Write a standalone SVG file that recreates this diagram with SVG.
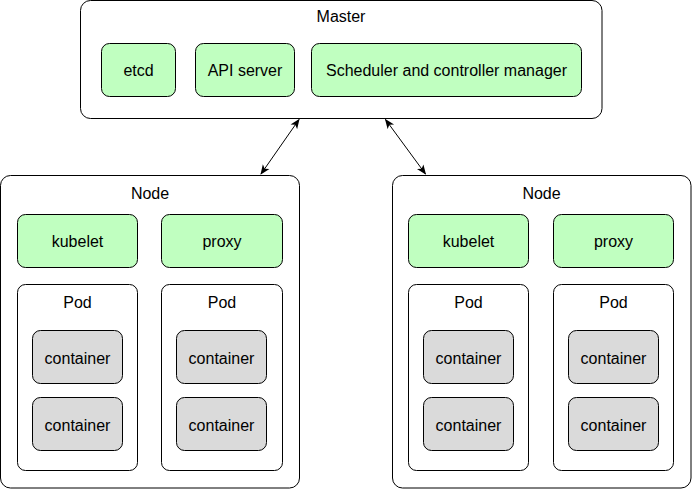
<svg xmlns="http://www.w3.org/2000/svg" width="692" height="489" viewBox="0 0 692 489">
<defs>
<style>
.box{fill:#ffffff;stroke:#000000;stroke-width:1}
.green{fill:#c0ffc0;stroke:#000000;stroke-width:1}
.gray{fill:#dadada;stroke:#000000;stroke-width:1}
text{font-family:"Liberation Sans",Arial,Helvetica,sans-serif;font-size:16px;fill:#000000;text-anchor:middle}
.conn{stroke:#000000;stroke-width:1;fill:none;marker-start:url(#ah);marker-end:url(#ah)}
</style>
<marker id="ah" viewBox="0 0 10 10" refX="9" refY="5" markerWidth="10" markerHeight="10" markerUnits="userSpaceOnUse" orient="auto-start-reverse">
<path d="M0,1 L10,5 L0,9 L2.5,5 Z" fill="#000000"/>
</marker>
</defs>
<rect width="692" height="489" fill="#ffffff"/>

<g id="master">
<rect class="box" x="80.5" y="0.5" width="521.5" height="118" rx="10"/>
<text x="341" y="21.5">Master</text>
</g>
<g id="etcd">
<rect class="green" x="101.5" y="43.5" width="74" height="53" rx="8"/>
<text x="138.5" y="76">etcd</text>
</g>
<g id="api-server">
<rect class="green" x="195.5" y="43.5" width="99" height="53" rx="8"/>
<text x="245" y="76">API server</text>
</g>
<g id="scheduler">
<rect class="green" x="311.5" y="43.5" width="270" height="53" rx="8"/>
<text x="446.5" y="76">Scheduler and controller manager</text>
</g>

<g id="node-left">
<rect class="box" x="0.5" y="175.5" width="299" height="312.5" rx="10"/>
<text x="150" y="199">Node</text>
</g>
<g id="kubelet-left">
<rect class="green" x="17.5" y="214.5" width="120" height="53" rx="8"/>
<text x="77.5" y="247">kubelet</text>
</g>
<g id="proxy-left">
<rect class="green" x="161.5" y="214.5" width="121" height="53" rx="8"/>
<text x="222" y="247">proxy</text>
</g>
<g id="pod-left-1">
<rect class="box" x="17.5" y="284.5" width="120" height="186" rx="8"/>
<text x="77.5" y="308">Pod</text>
</g>
<g id="container-left-1a">
<rect class="gray" x="32.5" y="330.5" width="90" height="53" rx="8"/>
<text x="77.5" y="363.5">container</text>
</g>
<g id="container-left-1b">
<rect class="gray" x="32.5" y="397.5" width="90" height="53" rx="8"/>
<text x="77.5" y="430.5">container</text>
</g>
<g id="pod-left-2">
<rect class="box" x="161.5" y="284.5" width="121" height="186" rx="8"/>
<text x="222" y="308">Pod</text>
</g>
<g id="container-left-2a">
<rect class="gray" x="176.5" y="330.5" width="90" height="53" rx="8"/>
<text x="221.5" y="363.5">container</text>
</g>
<g id="container-left-2b">
<rect class="gray" x="176.5" y="397.5" width="90" height="53" rx="8"/>
<text x="221.5" y="430.5">container</text>
</g>

<g id="node-right">
<rect class="box" x="392.5" y="175.5" width="298.5" height="312.5" rx="10"/>
<text x="541.5" y="199">Node</text>
</g>
<g id="kubelet-right">
<rect class="green" x="408.5" y="214.5" width="120" height="53" rx="8"/>
<text x="468.5" y="247">kubelet</text>
</g>
<g id="proxy-right">
<rect class="green" x="553.5" y="214.5" width="120" height="53" rx="8"/>
<text x="613.5" y="247">proxy</text>
</g>
<g id="pod-right-1">
<rect class="box" x="408.5" y="284.5" width="120" height="186" rx="8"/>
<text x="468.5" y="308">Pod</text>
</g>
<g id="container-right-1a">
<rect class="gray" x="423.5" y="330.5" width="90" height="53" rx="8"/>
<text x="468.5" y="363.5">container</text>
</g>
<g id="container-right-1b">
<rect class="gray" x="423.5" y="397.5" width="90" height="53" rx="8"/>
<text x="468.5" y="430.5">container</text>
</g>
<g id="pod-right-2">
<rect class="box" x="553.5" y="284.5" width="120" height="186" rx="8"/>
<text x="613.5" y="308">Pod</text>
</g>
<g id="container-right-2a">
<rect class="gray" x="568.5" y="330.5" width="90" height="53" rx="8"/>
<text x="613.5" y="363.5">container</text>
</g>
<g id="container-right-2b">
<rect class="gray" x="568.5" y="397.5" width="90" height="53" rx="8"/>
<text x="613.5" y="430.5">container</text>
</g>

<g id="connectors">
<line class="conn" x1="299" y1="119.5" x2="261" y2="174"/>
<line class="conn" x1="385.5" y1="119.5" x2="425.5" y2="174"/>
</g>
</svg>
